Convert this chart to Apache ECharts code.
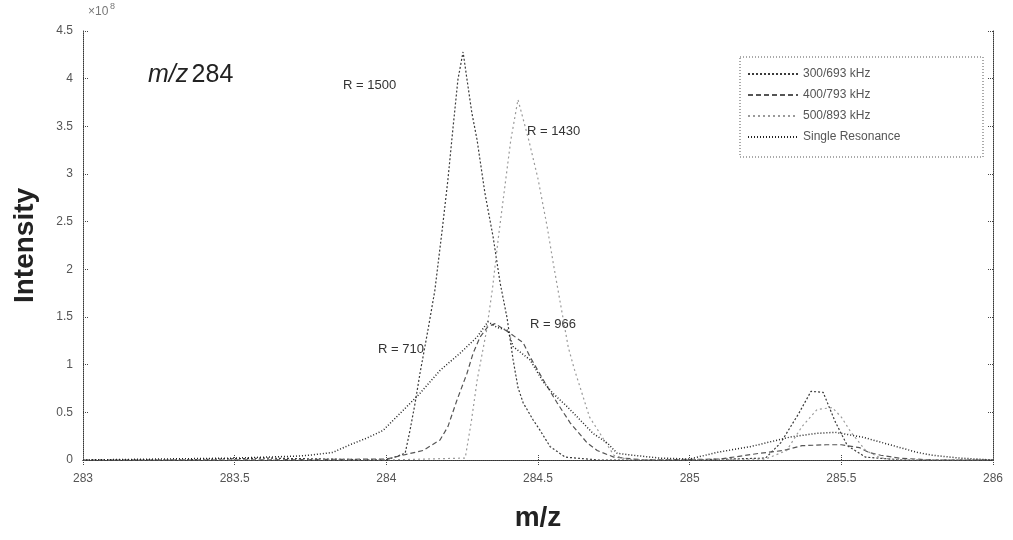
<!DOCTYPE html>
<html>
<head>
<meta charset="utf-8">
<script src="https://cdn.jsdelivr.net/npm/echarts@6/dist/echarts.min.js"></script>
<style>
  html, body { margin: 0; padding: 0; background: #fff; }
  #chart { width: 1013px; height: 540px; }
</style>
</head>
<body>
<div id="chart"></div>
<script>
// intensity values in units of 1e8, m/z on x
const seriesNames = ["300/693 kHz", "400/793 kHz", "500/893 kHz", "Single Resonance"];
const xTicks = [283, 283.5, 284, 284.5, 285, 285.5, 286];

// R = 1500
const mzA = [283.0, 283.3, 283.6, 283.8, 284.0, 284.062, 284.078, 284.095, 284.111, 284.137, 284.16, 284.184, 284.203, 284.22, 284.236, 284.253, 284.266, 284.282, 284.299, 284.325, 284.352, 284.375, 284.398, 284.418, 284.434, 284.451, 284.484, 284.507, 284.54, 284.59, 284.7, 285.0, 285.25, 285.3, 285.36, 285.4, 285.44, 285.48, 285.52, 285.58, 285.7, 286.0];
const intA = [0.0, 0.0, 0.02, 0.01, 0.0, 0.07, 0.31, 0.6, 0.91, 1.36, 1.78, 2.41, 2.94, 3.49, 3.99, 4.28, 3.99, 3.64, 3.36, 2.8, 2.34, 1.86, 1.49, 1.05, 0.76, 0.6, 0.42, 0.31, 0.14, 0.03, 0.0, 0.0, 0.02, 0.18, 0.49, 0.72, 0.71, 0.4, 0.15, 0.03, 0.0, 0.0];

// R = 966
const mzC = [283.0, 283.5, 284.0, 284.121, 284.177, 284.203, 284.233, 284.266, 284.286, 284.309, 284.335, 284.358, 284.408, 284.451, 284.474, 284.523, 284.563, 284.606, 284.662, 284.695, 284.75, 284.85, 285.1, 285.23, 285.31, 285.37, 285.45, 285.5, 285.56, 285.59, 285.63, 285.69, 285.8, 286.0];
const intC = [0.0, 0.0, 0.01, 0.1, 0.21, 0.35, 0.63, 0.91, 1.12, 1.29, 1.4, 1.43, 1.33, 1.23, 1.08, 0.81, 0.6, 0.39, 0.18, 0.1, 0.03, 0.0, 0.01, 0.07, 0.1, 0.15, 0.16, 0.16, 0.13, 0.08, 0.05, 0.02, 0.0, 0.0];

// R = 1430
const mzB = [283.0, 283.5, 284.0, 284.26, 284.28, 284.3, 284.33, 284.35, 284.37, 284.39, 284.41, 284.434, 284.47, 284.5, 284.53, 284.55, 284.57, 284.6, 284.62, 284.65, 284.67, 284.71, 284.75, 284.8, 285.0, 285.25, 285.32, 285.37, 285.42, 285.47, 285.5, 285.53, 285.58, 285.63, 285.7, 286.0];
const intB = [0.0, 0.0, 0.0, 0.02, 0.4, 0.85, 1.35, 1.8, 2.35, 2.85, 3.35, 3.78, 3.35, 2.95, 2.45, 2.07, 1.71, 1.18, 0.95, 0.65, 0.45, 0.25, 0.05, 0.0, 0.0, 0.01, 0.1, 0.35, 0.53, 0.55, 0.45, 0.3, 0.1, 0.02, 0.0, 0.0];

// R = 710
const mzD = [283.0, 283.5, 283.7, 283.748, 283.824, 283.88, 283.936, 283.989, 284.055, 284.111, 284.177, 284.243, 284.299, 284.335, 284.365, 284.401, 284.418, 284.474, 284.517, 284.549, 284.596, 284.639, 284.681, 284.728, 284.761, 284.813, 284.902, 285.0, 285.09, 285.2, 285.33, 285.42, 285.48, 285.57, 285.66, 285.75, 285.8, 285.89, 286.0];
const intD = [0.0, 0.02, 0.04, 0.05, 0.08, 0.16, 0.23, 0.31, 0.52, 0.7, 0.94, 1.12, 1.29, 1.45, 1.39, 1.36, 1.19, 1.05, 0.82, 0.7, 0.56, 0.42, 0.28, 0.18, 0.07, 0.05, 0.02, 0.01, 0.08, 0.14, 0.24, 0.28, 0.29, 0.24, 0.16, 0.08, 0.05, 0.02, 0.0];

const peakLabels = [
  { text: "R = 1500", x: 343, y: 79 },
  { text: "R = 1430", x: 527, y: 125 },
  { text: "R = 966", x: 530, y: 318 },
  { text: "R = 710", x: 378, y: 343 }
];

const pair = (xs, ys) => xs.map((x, i) => [x, ys[i]]);
const font = "Liberation Sans";

const lineSeries = (name, xs, ys, color, type, width) => ({
  name,
  type: "line",
  data: pair(xs, ys),
  showSymbol: false,
  symbol: "none",
  smooth: false,
  animation: false,
  lineStyle: { color, type, width },
  itemStyle: { color }
});

const axisCommon = {
  axisLine: { show: true, lineStyle: { color: "#333", type: "dotted", width: 1 } },
  axisTick: { show: true, inside: true, length: 5, lineStyle: { color: "#444", type: "dotted" } },
  splitLine: { show: false }
};

const chart = echarts.init(document.getElementById("chart"), null, { renderer: "canvas" });
chart.setOption({
  animation: false,
  backgroundColor: "#fff",
  grid: { left: 83, right: 20, top: 31, bottom: 80, outerBoundsMode: "none", containLabel: false },
  xAxis: [
    {
      type: "value", min: 283, max: 286, interval: 0.5, position: "bottom",
      name: "m/z", nameLocation: "middle", nameGap: 44,
      nameTextStyle: { fontFamily: font, fontSize: 28, fontWeight: "bold", color: "#222" },
      axisLabel: { fontFamily: font, fontSize: 12, color: "#555", margin: 13, formatter: (v) => String(v) },
      ...axisCommon
    },
    {
      type: "value", min: 283, max: 286, interval: 0.5, position: "top",
      axisLabel: { show: false }, ...axisCommon
    }
  ],
  yAxis: [
    {
      type: "value", min: 0, max: 4.5, interval: 0.5, position: "left",
      name: "Intensity", nameLocation: "middle", nameGap: 44, nameRotate: 90,
      nameTextStyle: { fontFamily: font, fontSize: 28, fontWeight: "bold", color: "#222" },
      axisLabel: { fontFamily: font, fontSize: 12, color: "#555", margin: 10, formatter: (v) => String(v) },
      ...axisCommon
    },
    {
      type: "value", min: 0, max: 4.5, interval: 0.5, position: "right",
      axisLabel: { show: false }, ...axisCommon
    }
  ],
  legend: {
    orient: "vertical",
    left: 742, top: 63,
    itemWidth: 50, itemHeight: 10, itemGap: 9,
    itemStyle: { opacity: 0 },
    textStyle: { fontFamily: font, fontSize: 12, color: "#555" },
    data: seriesNames
  },
  graphic: [
    { type: "rect", shape: { x: 740, y: 57, width: 243, height: 100 },
      style: { fill: "#fff", stroke: "#555", lineWidth: 1, lineDash: [1, 2] }, z: 0 },
    { type: "text", left: 88, top: 6,
      style: { text: "×10", font: "12px " + font, fill: "#777" } },
    { type: "text", left: 110, top: 2,
      style: { text: "8", font: "9px " + font, fill: "#777" } },
    { type: "text", left: 148, top: 63,
      style: { rich: {
        i: { fontFamily: font, fontSize: 25, fontStyle: "italic", fill: "#222" },
        n: { fontFamily: font, fontSize: 25, fill: "#222" }
      }, text: "{i|m/z} {n|284}" } },
    ...peakLabels.map((p) => ({
      type: "text", left: p.x, top: p.y,
      style: { text: p.text, font: "13px " + font, fill: "#333" }
    }))
  ],
  series: [
    lineSeries(seriesNames[0], mzA, intA, "#3a3a3a", [2, 2], 1.2),
    lineSeries(seriesNames[1], mzC, intC, "#555", [5, 3], 1.2),
    lineSeries(seriesNames[2], mzB, intB, "#9a9a9a", [2, 3], 1.2),
    lineSeries(seriesNames[3], mzD, intD, "#222", [1, 2], 1.5)
  ]
});
</script>
</body>
</html>
